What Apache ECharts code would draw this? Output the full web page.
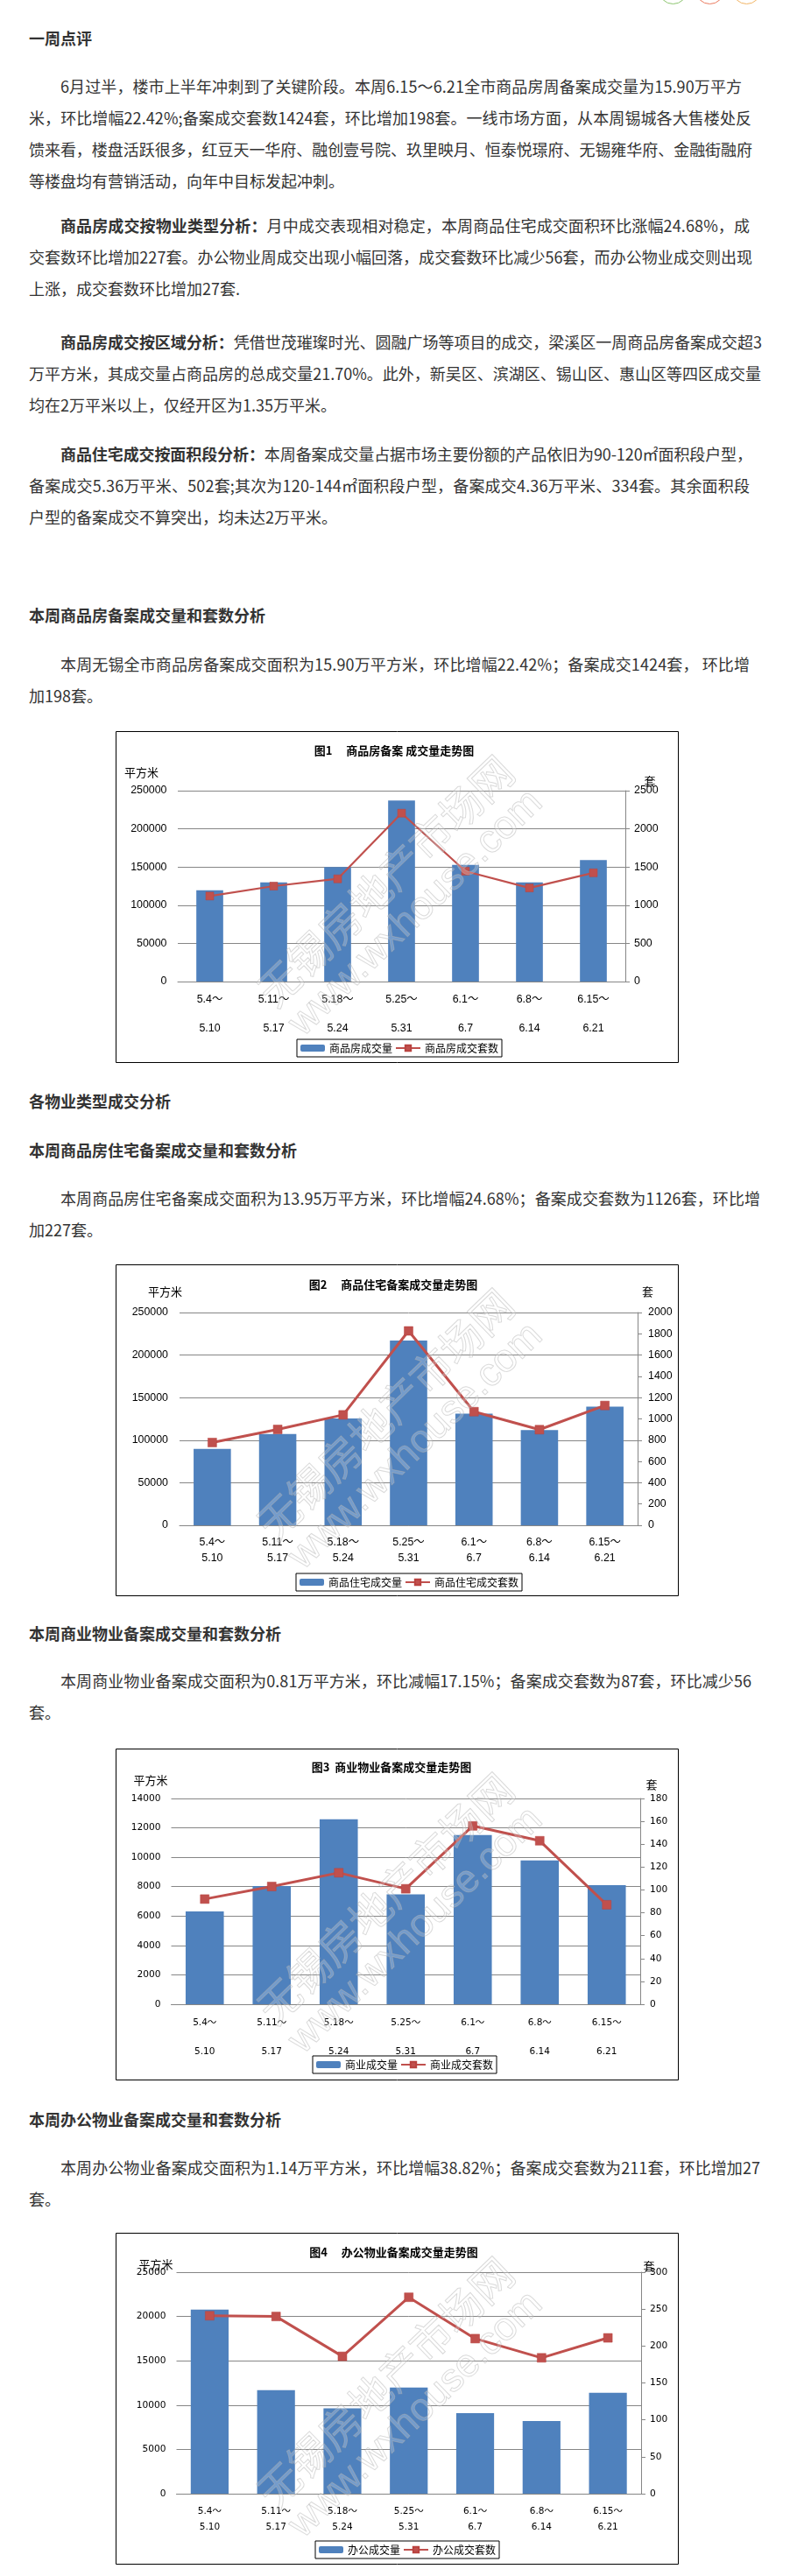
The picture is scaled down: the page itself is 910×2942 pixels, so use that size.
<!DOCTYPE html>
<html>
<head>
<meta charset="utf-8">
<script src="https://cdn.jsdelivr.net/npm/echarts/dist/echarts.min.js"></script>
<style>
html,body{margin:0;padding:0;overflow:hidden;background:#fff;}
body{position:relative;width:910px;height:2942px;font-family:"Noto Sans CJK SC","Noto Sans",sans-serif;color:#333;}
.blk{position:absolute;left:33px;font-size:18px;line-height:36px;}
.ln{white-space:nowrap;height:36px;}
.ind{padding-left:36px;}
.h{font-weight:bold;}
.chart{position:absolute;left:132px;width:643px;height:379px;}
.circ{position:absolute;top:-28px;width:33px;height:33px;border-radius:50%;border:1.5px solid;box-sizing:border-box;}
</style>
</head>
<body>
<div class="circ" style="left:752px;border-color:#8cc56f;"></div>
<div class="circ" style="left:794px;border-color:#ea7a5e;"></div>
<div class="circ" style="left:836px;border-color:#f2b463;"></div>

<div class="blk h" style="top:25px;"><div class="ln">一周点评</div></div>

<div class="blk" style="top:80px;">
<div class="ln ind" data-end="847"><span class="t">6月过半，楼市上半年冲刺到了关键阶段。本周6.15～6.21全市商品房周备案成交量为15.90万平方</span></div>
<div class="ln" data-end="858"><span class="t">米，环比增幅22.42%;备案成交套数1424套，环比增加198套。一线市场方面，从本周锡城各大售楼处反</span></div>
<div class="ln" data-end="859"><span class="t">馈来看，楼盘活跃很多，红豆天一华府、融创壹号院、玖里映月、恒泰悦璟府、无锡雍华府、金融街融府</span></div>
<div class="ln"><span class="t">等楼盘均有营销活动，向年中目标发起冲刺。</span></div>
</div>

<div class="blk" style="top:239px;">
<div class="ln ind" data-end="856"><span class="t"><b>商品房成交按物业类型分析：</b>月中成交表现相对稳定，本周商品住宅成交面积环比涨幅24.68%，成</span></div>
<div class="ln" data-end="859"><span class="t">交套数环比增加227套。办公物业周成交出现小幅回落，成交套数环比减少56套，而办公物业成交则出现</span></div>
<div class="ln"><span class="t">上涨，成交套数环比增加27套.</span></div>
</div>

<div class="blk" style="top:372px;">
<div class="ln ind" data-end="870"><span class="t"><b>商品房成交按区域分析：</b>凭借世茂璀璨时光、圆融广场等项目的成交，梁溪区一周商品房备案成交超3</span></div>
<div class="ln" data-end="869"><span class="t">万平方米，其成交量占商品房的总成交量21.70%。此外，新吴区、滨湖区、锡山区、惠山区等四区成交量</span></div>
<div class="ln"><span class="t">均在2万平米以上，仅经开区为1.35万平米。</span></div>
</div>

<div class="blk" style="top:500px;">
<div class="ln ind" data-end="859"><span class="t"><b>商品住宅成交按面积段分析：</b>本周备案成交量占据市场主要份额的产品依旧为90-120㎡面积段户型，</span></div>
<div class="ln" data-end="856"><span class="t">备案成交5.36万平米、502套;其次为120-144㎡面积段户型，备案成交4.36万平米、334套。其余面积段</span></div>
<div class="ln"><span class="t">户型的备案成交不算突出，均未达2万平米。</span></div>
</div>

<div class="blk h" style="top:684px;"><div class="ln">本周商品房备案成交量和套数分析</div></div>
<div class="blk" style="top:740px;">
<div class="ln ind" data-end="856"><span class="t">本周无锡全市商品房备案成交面积为15.90万平方米，环比增幅22.42%；备案成交1424套， 环比增</span></div>
<div class="ln"><span class="t">加198套。</span></div>
</div>

<div id="c1" class="chart" style="top:835px;"></div>

<div class="blk h" style="top:1239px;"><div class="ln">各物业类型成交分析</div></div>
<div class="blk h" style="top:1295px;"><div class="ln">本周商品房住宅备案成交量和套数分析</div></div>
<div class="blk" style="top:1350px;">
<div class="ln ind" data-end="868"><span class="t">本周商品房住宅备案成交面积为13.95万平方米，环比增幅24.68%；备案成交套数为1126套，环比增</span></div>
<div class="ln"><span class="t">加227套。</span></div>
</div>

<div id="c2" class="chart" style="top:1444px;"></div>

<div class="blk h" style="top:1847px;"><div class="ln">本周商业物业备案成交量和套数分析</div></div>
<div class="blk" style="top:1901px;">
<div class="ln ind" data-end="858"><span class="t">本周商业物业备案成交面积为0.81万平方米，环比减幅17.15%；备案成交套数为87套，环比减少56</span></div>
<div class="ln"><span class="t">套。</span></div>
</div>

<div id="c3" class="chart" style="top:1997px;"></div>

<div class="blk h" style="top:2402px;"><div class="ln">本周办公物业备案成交量和套数分析</div></div>
<div class="blk" style="top:2457px;">
<div class="ln ind" data-end="868"><span class="t">本周办公物业备案成交面积为1.14万平方米，环比增幅38.82%；备案成交套数为211套，环比增加27</span></div>
<div class="ln"><span class="t">套。</span></div>
</div>

<div id="c4" class="chart" style="top:2550px;"></div>

<script>
// ---------------- data ----------------
const weekStart = ['5.4', '5.11', '5.18', '5.25', '6.1', '6.8', '6.15'];
const weekEnd   = ['5.10', '5.17', '5.24', '5.31', '6.7', '6.14', '6.21'];

const allArea  = [119500, 129800, 150000, 237000, 152800, 129900, 159000];
const allUnits = [1120, 1250, 1345, 2205, 1445, 1226, 1424];

const resArea  = [89800, 107200, 125600, 217000, 131100, 111900, 139500];
const resUnits = [778, 901, 1038, 1827, 1068, 899, 1126];

const comArea  = [6320, 8050, 12590, 7470, 11520, 9780, 8100];
const comUnits = [92, 103, 115, 101, 156, 143, 87];

const offArea  = [20780, 11680, 9630, 11970, 9100, 8212, 11400];
const offUnits = [241, 240, 186, 266, 210, 184, 211];

const leftAxisMax   = [250000, 250000, 14000, 25000];
const leftAxisStep  = [50000, 50000, 2000, 5000];
const rightAxisMax  = [2500, 2000, 180, 300];
const rightAxisStep = [500, 200, 20, 50];

const chartTitles = ['图1\u3000 商品房备案 成交量走势图', '图2\u3000 商品住宅备案成交量走势图',
                     '图3  商业物业备案成交量走势图', '图4\u3000 办公物业备案成交量走势图'];
const barNames  = ['商品房成交量', '商品住宅成交量', '商业成交量', '办公成交量'];
const lineNames = ['商品房成交套数', '商品住宅成交套数', '商业成交套数', '办公成交套数'];
const leftUnit = '平方米';
const rightUnit = '套';

// -------------- text line fitting ----------------
document.querySelectorAll('[data-end]').forEach(function (el) {
  const t = el.querySelector('.t');
  const n = t.textContent.length;
  const r = t.getBoundingClientRect();
  const end = parseFloat(el.getAttribute('data-end'));
  const ls = (end - r.right) / (n - 1);
  t.style.letterSpacing = ls.toFixed(3) + 'px';
});

// -------------- charts ----------------
const W = 643, H = 379;
const styles = [
  {grid: {left: 71, right: 61, top: 68, bottom: 93}, barWidth: '42%', lw: 2.2, sym: 9,
   xFont: '"Liberation Sans","Noto Sans CJK SC"', xSize: 12.4, yFont: '"Liberation Sans"', ySize: 12.4,
   rows2: true, xLH: 16.5, xMargin: 12.5, lMargin: 12.5, rMargin: 10,
   titleX: 318, titleY: 22, unitL: [29.5, 47], unitR: [610, 57], legendLeft: 207, legendTop: 352},
  {grid: {left: 73, right: 47, top: 55, bottom: 81}, barWidth: '57%', lw: 3, sym: 10,
   xFont: '"Liberation Sans","Noto Sans CJK SC"', xSize: 12.4, yFont: '"Liberation Sans"', ySize: 12.4,
   rows2: false, xLH: 18, xMargin: 11, lMargin: 13, rMargin: 12,
   titleX: 317, titleY: 23, unitL: [56.5, 31], unitR: [607.5, 31], legendLeft: 206, legendTop: 353},
  {grid: {left: 63.5, right: 44, top: 57, bottom: 87}, barWidth: '57%', lw: 3, sym: 10,
   xFont: '"DejaVu Sans","Noto Sans CJK SC"', xSize: 10.5, yFont: '"DejaVu Sans"', ySize: 10.6,
   rows2: true, xLH: 16.8, xMargin: 12.5, lMargin: 12, rMargin: 11,
   titleX: 315, titleY: 21, unitL: [40, 36], unitR: [612, 41], legendLeft: 225, legendTop: 351},
  {grid: {left: 69.5, right: 43, top: 45, bottom: 81}, barWidth: '57%', lw: 3, sym: 10,
   xFont: '"DejaVu Sans","Noto Sans CJK SC"', xSize: 10.5, yFont: '"DejaVu Sans"', ySize: 10.6,
   rows2: false, xLH: 18, xMargin: 11, lMargin: 12, rMargin: 10,
   titleX: 317.5, titleY: 22, unitL: [46, 36], unitR: [609, 38], legendLeft: 228, legendTop: 352}
];
const areaSets = [allArea, resArea, comArea, offArea];
const unitSets = [allUnits, resUnits, comUnits, offUnits];

function build(idx) {
  const s = styles[idx];
  const chart = echarts.init(document.getElementById('c' + (idx + 1)), null, {width: W, height: H});
  const labels = weekStart.map(function (a, i) { return a + '～' + (s.rows2 ? '\n\n' : '\n') + weekEnd[i]; });
  const gray = '#868686';
  const deg = 44 * Math.PI / 180;
  chart.setOption({
    animation: false,
    backgroundColor: '#fff',
    grid: s.grid,
    graphic: [
      {type: 'rect', silent: true, z: 0, shape: {x: 0.5, y: 0.5, width: W - 1, height: H - 1},
       style: {fill: 'none', stroke: '#000', lineWidth: 1}},
      {type: 'text', silent: true, x: s.titleX, y: s.titleY,
       style: {text: chartTitles[idx], font: 'bold 13px "Noto Sans CJK SC"', fill: '#000',
               textAlign: 'center', textVerticalAlign: 'middle', align: 'center', verticalAlign: 'middle'}},
      {type: 'text', silent: true, x: s.unitL[0], y: s.unitL[1],
       style: {text: leftUnit, font: '13px "Noto Sans CJK SC"', fill: '#000',
               textAlign: 'center', textVerticalAlign: 'middle', align: 'center', verticalAlign: 'middle'}},
      {type: 'text', silent: true, x: s.unitR[0], y: s.unitR[1],
       style: {text: rightUnit, font: '13px "Noto Sans CJK SC"', fill: '#000',
               textAlign: 'center', textVerticalAlign: 'middle', align: 'center', verticalAlign: 'middle'}},
      {type: 'text', silent: true, z: 100, x: 308, y: 171, rotation: deg,
       style: {text: '无锡房地产市场网', font: '48px "Noto Sans CJK SC"', fill: 'rgba(255,255,255,0.22)',
               stroke: 'rgba(165,165,165,0.45)', lineWidth: 1,
               textAlign: 'center', textVerticalAlign: 'middle', align: 'center', verticalAlign: 'middle'}},
      {type: 'text', silent: true, z: 100, x: 343, y: 208, rotation: deg,
       style: {text: 'www.wxhouse.com', font: '45px "Liberation Sans"', fill: 'rgba(255,255,255,0.22)',
               stroke: 'rgba(165,165,165,0.45)', lineWidth: 1,
               textAlign: 'center', textVerticalAlign: 'middle', align: 'center', verticalAlign: 'middle'}}
    ],
    legend: {
      left: s.legendLeft, top: s.legendTop, itemWidth: 28, itemHeight: 8, itemGap: 3,
      padding: [3, 4], borderColor: '#000', borderWidth: 1, backgroundColor: '#fff',
      textStyle: {fontSize: 12, color: '#000', fontFamily: '"Noto Sans CJK SC"', lineHeight: 14},
      data: [barNames[idx], lineNames[idx]]
    },
    xAxis: {
      type: 'category', data: labels,
      axisTick: {show: false},
      axisLine: {lineStyle: {color: gray, width: 1}},
      axisLabel: {interval: 0, color: '#000', fontFamily: s.xFont, fontSize: s.xSize,
                  lineHeight: s.xLH, margin: s.xMargin}
    },
    yAxis: [
      {type: 'value', min: 0, max: leftAxisMax[idx], interval: leftAxisStep[idx],
       axisLine: {show: false}, axisTick: {show: false},
       splitLine: {lineStyle: {color: gray, width: 1}},
       axisLabel: {color: '#000', fontFamily: s.yFont, fontSize: s.ySize, margin: s.lMargin,
                   formatter: function (v) { return String(v); }}},
      {type: 'value', position: 'right', min: 0, max: rightAxisMax[idx], interval: rightAxisStep[idx],
       axisLine: {show: true, lineStyle: {color: gray, width: 1}},
       axisTick: {show: true, length: 5, lineStyle: {color: gray}},
       splitLine: {show: false},
       axisLabel: {color: '#000', fontFamily: s.yFont, fontSize: s.ySize, margin: s.rMargin,
                   formatter: function (v) { return String(v); }}}
    ],
    series: [
      {type: 'bar', name: barNames[idx], data: areaSets[idx], barWidth: s.barWidth,
       itemStyle: {color: '#4F81BD'}},
      {type: 'line', name: lineNames[idx], yAxisIndex: 1, data: unitSets[idx],
       symbol: 'rect', symbolSize: s.sym, z: 5,
       lineStyle: {color: '#C0504D', width: s.lw},
       itemStyle: {color: '#C0504D', borderColor: '#B9423F', borderWidth: 0.5}}
    ]
  });
}
[0, 1, 2, 3].forEach(build);
</script>
</body>
</html>
